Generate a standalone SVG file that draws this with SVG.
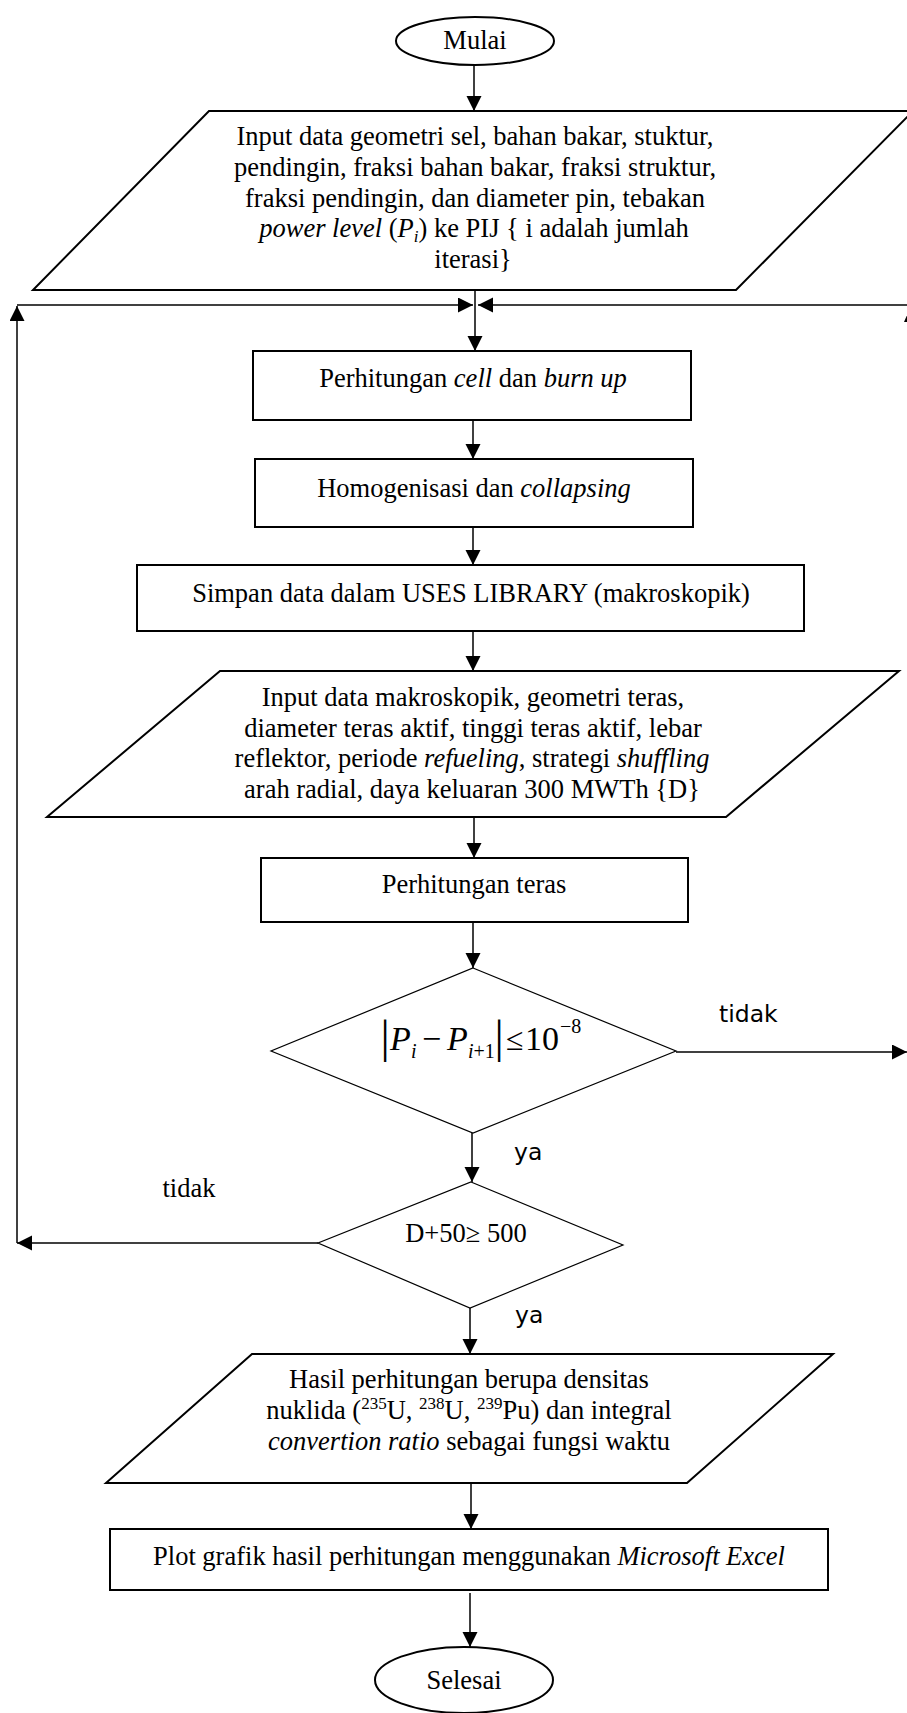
<svg xmlns="http://www.w3.org/2000/svg" width="907" height="1713" viewBox="0 0 907 1713">
<style>
.shape{fill:#fff;stroke:#000;stroke-width:2}
.thin{fill:#fff;stroke:#000;stroke-width:1.2}
.con{fill:none;stroke:#000;stroke-width:1.5}
.t{font-family:"Liberation Serif","Times New Roman",serif;font-size:26.5px;fill:#000;text-anchor:middle}
.i{font-style:italic}
.lbl{font-family:"DejaVu Sans",Verdana,sans-serif;font-size:23.5px;fill:#000}
.f{font-family:"Liberation Serif","Times New Roman",serif;fill:#000}
</style>
<defs>
<marker id="ah" markerUnits="userSpaceOnUse" markerWidth="16" markerHeight="16" refX="15" refY="7.5" orient="auto">
<path d="M0,0 L15,7.5 L0,15 z" fill="#000"/>
</marker>
</defs>
<rect width="907" height="1713" fill="#fff"/>

<g id="connectors">
<line class="con" x1="474" y1="65" x2="474" y2="111" marker-end="url(#ah)"/>
<line class="con" x1="475" y1="290" x2="475" y2="351" marker-end="url(#ah)"/>
<line class="con" x1="17" y1="1243" x2="17" y2="306" marker-end="url(#ah)"/>
<line class="con" x1="17" y1="305" x2="473" y2="305" marker-end="url(#ah)"/>
<line class="con" x1="910" y1="305" x2="478" y2="305" marker-end="url(#ah)"/>
<path d="M911,306 L904,322 L918,322 z" fill="#000"/>
<line class="con" x1="473" y1="420" x2="473" y2="459" marker-end="url(#ah)"/>
<line class="con" x1="473" y1="527" x2="473" y2="565" marker-end="url(#ah)"/>
<line class="con" x1="473" y1="631" x2="473" y2="671" marker-end="url(#ah)"/>
<line class="con" x1="474" y1="817" x2="474" y2="858" marker-end="url(#ah)"/>
<line class="con" x1="473" y1="922" x2="473" y2="968" marker-end="url(#ah)"/>
<line class="con" x1="676" y1="1052" x2="907" y2="1052" marker-end="url(#ah)"/>
<line class="con" x1="472" y1="1133" x2="472" y2="1182" marker-end="url(#ah)"/>
<line class="con" x1="318" y1="1243" x2="17" y2="1243" marker-end="url(#ah)"/>
<line class="con" x1="470" y1="1308" x2="470" y2="1354" marker-end="url(#ah)"/>
<line class="con" x1="471" y1="1483" x2="471" y2="1529" marker-end="url(#ah)"/>
<line class="con" x1="470" y1="1593" x2="470" y2="1647" marker-end="url(#ah)"/>
<text class="lbl" x="719" y="1022">tidak</text>
<text class="lbl" x="514" y="1160">ya</text>
<text class="t" x="189" y="1197">tidak</text>
<text class="lbl" x="515" y="1323">ya</text>
</g>

<g id="mulai">
<ellipse class="shape" cx="475" cy="41" rx="79" ry="24"/>
<text class="t" x="475" y="49">Mulai</text>
</g>

<g id="input1">
<polygon class="shape" points="209,111 913,111 736,290 33,290"/>
<text class="t" x="475" y="145">Input data geometri sel, bahan bakar, stuktur,</text>
<text class="t" x="475" y="176">pendingin, fraksi bahan bakar, fraksi struktur,</text>
<text class="t" x="475" y="207">fraksi pendingin, dan diameter pin, tebakan</text>
<text class="t" x="474" y="237"><tspan class="i">power level</tspan> (<tspan class="i">P</tspan><tspan class="i" font-size="17" dy="5">i</tspan><tspan dy="-5">) ke PIJ { i adalah jumlah</tspan></text>
<text class="t" x="473" y="268">iterasi}</text>
</g>

<g id="cell">
<rect class="shape" x="253" y="351" width="438" height="69"/>
<text class="t" x="473" y="387">Perhitungan <tspan class="i">cell</tspan> dan <tspan class="i">burn up</tspan></text>
</g>

<g id="homogen">
<rect class="shape" x="255" y="459" width="438" height="68"/>
<text class="t" x="474" y="497">Homogenisasi dan <tspan class="i">collapsing</tspan></text>
</g>

<g id="simpan">
<rect class="shape" x="137" y="565" width="667" height="66"/>
<text class="t" x="471" y="602">Simpan data dalam USES LIBRARY (makroskopik)</text>
</g>

<g id="input2">
<polygon class="shape" points="220,671 899,671 726,817 47,817"/>
<text class="t" x="473" y="706">Input data makroskopik, geometri teras,</text>
<text class="t" x="473" y="737">diameter teras aktif, tinggi teras aktif, lebar</text>
<text class="t" x="472" y="767">reflektor, periode <tspan class="i">refueling</tspan>, strategi <tspan class="i">shuffling</tspan></text>
<text class="t" x="472" y="798">arah radial, daya keluaran 300 MWTh {D}</text>
</g>

<g id="teras">
<rect class="shape" x="261" y="858" width="427" height="64"/>
<text class="t" x="474" y="893">Perhitungan teras</text>
</g>

<g id="cek1">
<polygon class="thin" points="473,968 676,1051 473,1133 271,1051"/>
<text class="f" x="385" y="1052" font-size="46" text-anchor="middle">|</text>
<text class="f" x="390" y="1050" font-size="34" font-style="italic">P</text>
<text class="f" x="411" y="1058" font-size="20" font-style="italic">i</text>
<text class="f" x="422" y="1050" font-size="34">−</text>
<text class="f" x="447" y="1050" font-size="34" font-style="italic">P</text>
<text class="f" x="468" y="1058" font-size="20"><tspan font-style="italic">i</tspan>+1</text>
<text class="f" x="499" y="1052" font-size="46" text-anchor="middle">|</text>
<text class="f" x="506" y="1050" font-size="32">≤</text>
<text class="f" x="525" y="1050" font-size="34">10</text>
<text class="f" x="560" y="1033" font-size="20">−8</text>
</g>

<g id="cek2">
<polygon class="thin" points="471,1182 623,1245 470,1308 318,1243"/>
<text class="t" x="466" y="1242">D+50≥ 500</text>
</g>

<g id="hasil">
<polygon class="shape" points="252,1354 833,1354 687,1483 106,1483"/>
<text class="t" x="469" y="1388">Hasil perhitungan berupa densitas</text>
<text class="t" x="469" y="1419">nuklida (<tspan font-size="17" dy="-10">235</tspan><tspan dy="10">U, </tspan><tspan font-size="17" dy="-10">238</tspan><tspan dy="10">U, </tspan><tspan font-size="17" dy="-10">239</tspan><tspan dy="10">Pu) dan integral</tspan></text>
<text class="t" x="469" y="1450"><tspan class="i">convertion ratio</tspan> sebagai fungsi waktu</text>
</g>

<g id="plot">
<rect class="shape" x="110" y="1529" width="718" height="61"/>
<text class="t" x="469" y="1565">Plot grafik hasil perhitungan menggunakan <tspan class="i">Microsoft Excel</tspan></text>
</g>

<g id="selesai">
<ellipse class="shape" cx="464" cy="1680" rx="89" ry="33"/>
<text class="t" x="464" y="1689">Selesai</text>
</g>
</svg>
